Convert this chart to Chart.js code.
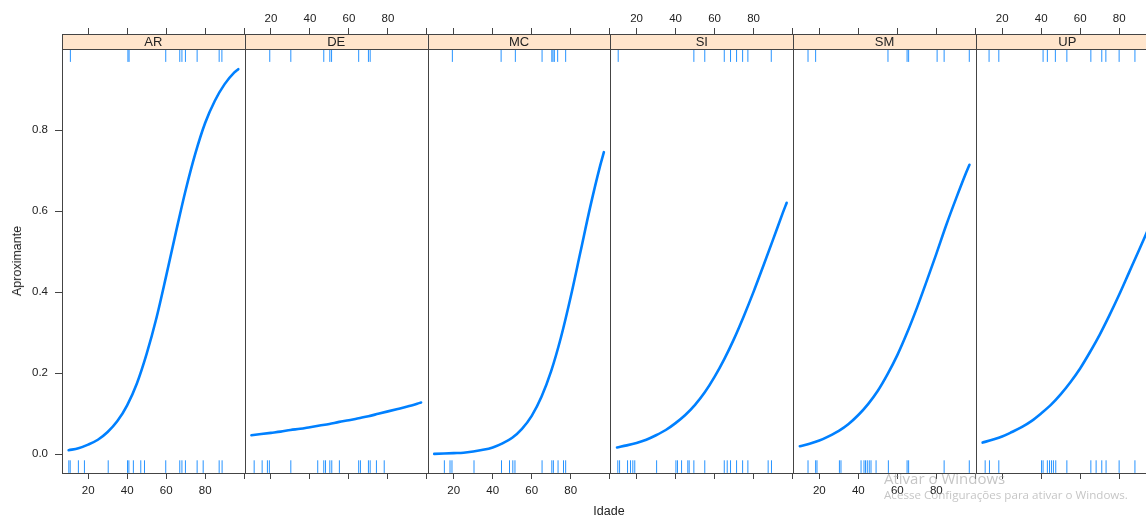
<!DOCTYPE html>
<html>
<head>
<meta charset="utf-8">
<script src="https://cdn.jsdelivr.net/npm/chart.js@4.4.1/dist/chart.umd.min.js"></script>
<style>
  html, body { margin: 0; padding: 0; background: #fff; overflow: hidden; }
  #wrap { position: relative; width: 1146px; height: 517px; overflow: hidden; font-family: "Liberation Sans", Arial, sans-serif; }
  #wrap canvas { position: absolute; left: 0; top: 0; }
  .txt { position: absolute; white-space: nowrap; color: #222; z-index: 5; }
  #xlab { left: 609px; top: 511px; font-size: 12.5px; transform: translate(-50%, -50%); }
  #ylab { left: 17px; top: 261px; font-size: 12.5px; transform: translate(-50%, -50%) rotate(-90deg); }
  #wm1 { left: 884px; top: 468px; font-size: 15px; color: rgba(150,150,150,0.55); font-family: "Open Sans", "Noto Sans", sans-serif; }
  #wm2 { left: 884px; top: 487px; font-size: 11.6px; color: rgba(150,150,150,0.55); font-family: "Open Sans", "Noto Sans", sans-serif; }
</style>
</head>
<body>
<div id="wrap">
  <div class="txt" id="xlab">Idade</div>
  <div class="txt" id="ylab">Aproximante</div>
  <div class="txt" id="wm1">Ativar o Windows</div>
  <div class="txt" id="wm2">Acesse Configurações para ativar o Windows.</div>
</div>
<script>
// Efeito de Idade sobre Aproximante, um painel por grupo (estilo lattice)

const panelNames = ['AR', 'DE', 'MC', 'SI', 'SM', 'UP'];
const ages = [10, 15, 20, 25, 30, 35, 40, 45, 50, 55, 60, 65, 70, 75, 80, 85, 90, 95, 97];

// fitted curves
const fitAR = [0.010, 0.015, 0.024, 0.036, 0.055, 0.082, 0.121, 0.175, 0.248, 0.336, 0.440, 0.548, 0.652, 0.743, 0.818, 0.873, 0.914, 0.943, 0.951];
const fitDE = [0.047, 0.050, 0.053, 0.056, 0.060, 0.063, 0.067, 0.071, 0.075, 0.080, 0.084, 0.089, 0.094, 0.100, 0.106, 0.112, 0.118, 0.125, 0.128];
const fitMC = [0.001, 0.002, 0.003, 0.004, 0.007, 0.011, 0.017, 0.027, 0.041, 0.063, 0.095, 0.142, 0.206, 0.289, 0.389, 0.500, 0.611, 0.711, 0.746];
const fitSI = [0.017, 0.022, 0.028, 0.036, 0.047, 0.060, 0.077, 0.097, 0.122, 0.153, 0.191, 0.235, 0.285, 0.341, 0.401, 0.465, 0.530, 0.596, 0.621];
const fitSM = [0.020, 0.026, 0.034, 0.045, 0.058, 0.075, 0.097, 0.124, 0.157, 0.198, 0.245, 0.300, 0.361, 0.427, 0.495, 0.565, 0.630, 0.692, 0.715];
const fitUP = [0.029, 0.036, 0.044, 0.055, 0.067, 0.082, 0.101, 0.122, 0.148, 0.178, 0.212, 0.252, 0.295, 0.343, 0.394, 0.448, 0.502, 0.557, 0.579];

// rug marks, top (under the strip) and bottom
const rugTopAR = [10.9, 40.4, 41.0, 59.8, 67.0, 68.1, 69.9, 75.9, 87.2, 88.6];
const rugBottomAR = [10.1, 10.8, 15.0, 18.1, 30.3, 40.2, 40.9, 43.2, 47.0, 48.9, 59.8, 67.0, 68.1, 69.9, 75.9, 79.0, 87.2, 88.7];
const rugTopDE = [19.4, 30.2, 47.1, 50.2, 51.1, 65.0, 70.0, 70.9];
const rugBottomDE = [11.4, 15.5, 18.2, 19.2, 30.2, 44.0, 47.1, 48.0, 50.2, 51.2, 55.1, 65.0, 65.9, 70.0, 70.9, 74.1, 78.1];
const rugTopMC = [19.3, 44.3, 51.6, 65.3, 70.3, 70.9, 71.6, 73.3, 77.4];
const rugBottomMC = [15.2, 18.1, 19.1, 30.4, 44.5, 48.6, 50.3, 51.4, 65.3, 70.3, 71.1, 73.5, 76.3, 77.4];
const rugTopSI = [10.6, 49.4, 55.0, 65.0, 68.2, 71.3, 74.4, 77.1, 89.1];
const rugBottomSI = [10.4, 11.3, 15.4, 16.9, 18.1, 19.1, 30.3, 40.2, 41.0, 43.1, 46.3, 47.0, 49.4, 55.0, 65.0, 66.5, 68.2, 71.3, 74.4, 77.1, 87.5, 89.2];
const rugTopSM = [14.2, 18.1, 55.2, 65.0, 65.8, 80.4, 84.0, 96.9];
const rugBottomSM = [14.2, 18.1, 18.8, 30.3, 31.1, 41.4, 42.9, 43.7, 44.6, 45.6, 46.5, 49.1, 55.4, 65.0, 65.8, 84.0, 96.9];
const rugTopUP = [13.3, 18.3, 41.0, 43.2, 47.3, 53.2, 65.5, 71.1, 73.2, 80.0, 88.1];
const rugBottomUP = [11.3, 13.5, 18.3, 40.2, 41.0, 43.2, 44.3, 45.3, 46.3, 47.5, 53.2, 65.5, 68.2, 71.1, 73.3, 80.0, 88.1];

const xTicks = [20, 40, 60, 80, 100];
const yTicks = [0, 0.2, 0.4, 0.6, 0.8];

const fits = [fitAR, fitDE, fitMC, fitSI, fitSM, fitUP];
const rugsTop = [rugTopAR, rugTopDE, rugTopMC, rugTopSI, rugTopSM, rugTopUP];
const rugsBottom = [rugBottomAR, rugBottomDE, rugBottomMC, rugBottomSI, rugBottomSM, rugBottomUP];

// ---- layout ----
const CANVAS_W = 1200, CANVAS_H = 517;
const PANEL_L = 62, PANEL_W = 182.8;
const PLOT_TOP = 34, PLOT_BOTTOM = 473, STRIP_H = 15;
const H_TOP = 20, H_BOT = 24;
const X_MIN = 6.6, X_MAX = X_MIN + PANEL_W / 1.95;
const PX_PER_UNIT = 405, ZERO_Y = 454.3;
const Y_MIN = -(PLOT_BOTTOM - ZERO_Y) / PX_PER_UNIT;
const Y_MAX = (ZERO_Y - PLOT_TOP) / PX_PER_UNIT;
const RUG_TOP = (ZERO_Y - 55.6) / PX_PER_UNIT;
const RUG_BOTTOM = (ZERO_Y - 466.6) / PX_PER_UNIT;

const BLUE = '#0080ff';
const RUG_COL = 'rgba(0,128,255,0.85)';
const AXIS_COL = '#444';

Chart.defaults.font.family = '"Liberation Sans", Arial, sans-serif';
Chart.defaults.font.size = 11.5;
Chart.defaults.color = '#222';

const panelFrame = {
  id: 'panelFrame',
  beforeDatasetsDraw(chart, args, opts){
    const { ctx, chartArea: a } = chart;
    ctx.save();
    ctx.fillStyle = '#ffe5cc';
    ctx.fillRect(a.left, a.top, a.width, STRIP_H);
    ctx.fillStyle = '#222';
    ctx.font = '13px "Liberation Sans", Arial, sans-serif';
    ctx.textAlign = 'center';
    ctx.textBaseline = 'middle';
    ctx.fillText(opts.label, (a.left + a.right) / 2, a.top + STRIP_H / 2 + 1);
    ctx.restore();
  },
  afterDraw(chart){
    const { ctx, chartArea: a } = chart;
    const l = Math.round(a.left) + 0.5, r = Math.round(a.right) + 0.5;
    const t = Math.round(a.top) + 0.5, b = Math.round(a.bottom) + 0.5;
    ctx.save();
    ctx.strokeStyle = AXIS_COL;
    ctx.lineWidth = 1;
    ctx.strokeRect(l, t, r - l, b - t);
    ctx.beginPath();
    ctx.moveTo(l, t + STRIP_H);
    ctx.lineTo(r, t + STRIP_H);
    ctx.stroke();
    ctx.restore();
  }
};

function xAxis(position, showLabels){
  return {
    type: 'linear',
    position,
    min: X_MIN,
    max: X_MAX,
    afterBuildTicks: (s) => { s.ticks = xTicks.map(v => ({ value: v })); },
    afterFit: (s) => { s.height = position === 'top' ? H_TOP : H_BOT; },
    grid: { drawOnChartArea: false, drawTicks: true, tickLength: 6, color: AXIS_COL },
    border: { display: false },
    ticks: {
      autoSkip: false,
      maxRotation: 0,
      padding: position === 'top' ? 2 : 5,
      callback: (v) => (showLabels && v !== 100) ? String(v) : ''
    }
  };
}

const wrap = document.getElementById('wrap');

panelNames.forEach((name, i) => {
  const canvas = document.createElement('canvas');
  canvas.width = CANVAS_W;
  canvas.height = CANVAS_H;
  canvas.style.width = CANVAS_W + 'px';
  canvas.style.height = CANVAS_H + 'px';
  wrap.insertBefore(canvas, wrap.firstChild);

  const left = PANEL_L + i * PANEL_W;
  const labelsBottom = i % 2 === 0;
  const hasYAxis = i === 0;

  new Chart(canvas, {
    type: 'scatter',
    data: {
      datasets: [
        {
          data: ages.map((a, j) => ({ x: a, y: fits[i][j] })),
          showLine: true,
          borderColor: BLUE,
          borderWidth: 2.6,
          pointRadius: 0,
          cubicInterpolationMode: 'monotone',
          borderCapStyle: 'round'
        },
        {
          data: rugsTop[i].map(a => ({ x: a, y: RUG_TOP })),
          pointStyle: 'line',
          rotation: 90,
          pointRadius: 6.3,
          borderColor: RUG_COL,
          borderWidth: 1
        },
        {
          data: rugsBottom[i].map(a => ({ x: a, y: RUG_BOTTOM })),
          pointStyle: 'line',
          rotation: 90,
          pointRadius: 6.3,
          borderColor: RUG_COL,
          borderWidth: 1
        }
      ]
    },
    options: {
      responsive: false,
      animation: false,
      devicePixelRatio: 1,
      layout: {
        padding: {
          left: hasYAxis ? 0 : left,
          right: CANVAS_W - (left + PANEL_W),
          top: PLOT_TOP - H_TOP,
          bottom: CANVAS_H - PLOT_BOTTOM - H_BOT
        }
      },
      plugins: {
        legend: { display: false },
        tooltip: { enabled: false },
        panelFrame: { label: name }
      },
      scales: {
        x: xAxis('bottom', labelsBottom),
        x2: xAxis('top', !labelsBottom),
        y: {
          type: 'linear',
          display: hasYAxis,
          min: Y_MIN,
          max: Y_MAX,
          afterBuildTicks: (s) => { s.ticks = yTicks.map(v => ({ value: v })); },
          afterFit: (s) => { s.width = hasYAxis ? PANEL_L : 0; },
          grid: { drawOnChartArea: false, drawTicks: true, tickLength: 7, color: AXIS_COL },
          border: { display: false },
          ticks: { padding: 7, callback: (v) => v.toFixed(1) }
        }
      }
    },
    plugins: [panelFrame]
  });
});
</script>
</body>
</html>
